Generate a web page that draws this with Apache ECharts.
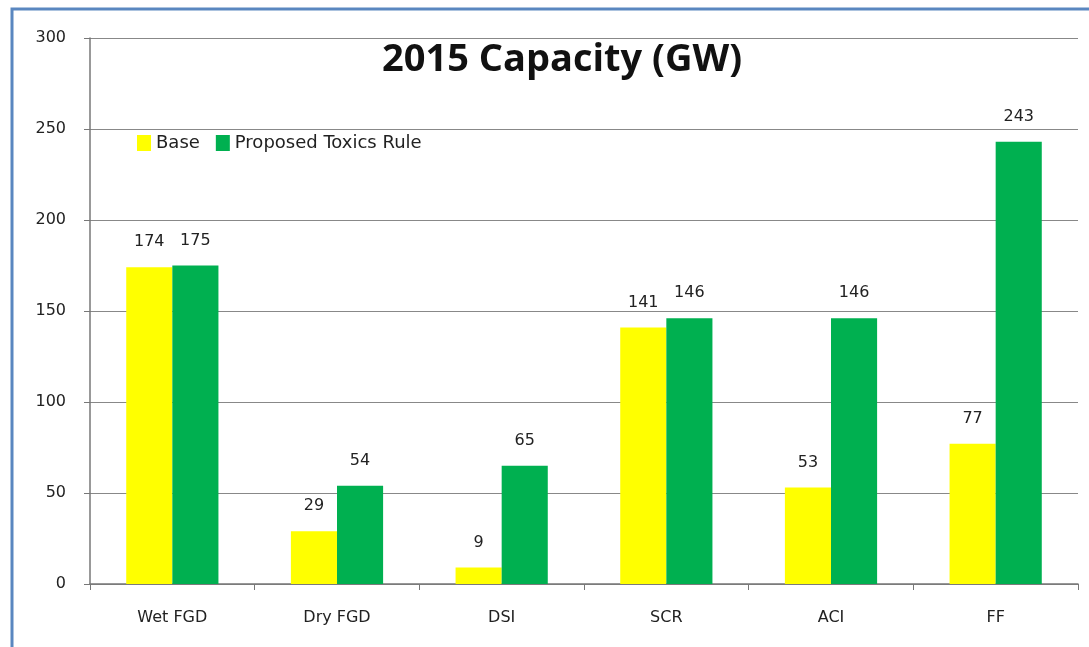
<!DOCTYPE html>
<html>
<head>
<meta charset="utf-8">
<script src="https://cdn.jsdelivr.net/npm/echarts@6/dist/echarts.min.js"></script>
<style>
html, body { margin: 0; padding: 0; background: #fff; }
#main { width: 1089px; height: 647px; }
</style>
</head>
<body>
<div id="main"></div>
<script>
var categories = ['Wet FGD', 'Dry FGD', 'DSI', 'SCR', 'ACI', 'FF'];
var baseValues = [174, 29, 9, 141, 53, 77];
var toxicsValues = [175, 54, 65, 146, 146, 243];

var myChart = echarts.init(document.getElementById('main'));
var labelStyle = {
	show: true,
	position: 'top',
	distance: 17,
	color: '#222',
	fontFamily: 'DejaVu Sans',
	fontSize: 16
};
option = {
	backgroundColor: '#fff',
	animation: false,
	title: {
		text: '2015 Capacity (GW)',
		left: 557,
		top: 36,
		textAlign: 'center',
		textStyle: {
			fontFamily: 'Open Sans',
			fontWeight: 'bold',
			fontSize: 38,
			color: '#111'
		}
	},
	legend: {
		left: 132,
		top: 129,
		itemWidth: 14,
		itemHeight: 16,
		itemGap: 16,
		icon: 'rect',
		textStyle: { fontFamily: 'DejaVu Sans', fontSize: 18, color: '#222' },
		data: ['Base', 'Proposed Toxics Rule']
	},
	graphic: [{
		type: 'rect',
		shape: { x: 12, y: 9, width: 1090, height: 650 },
		style: { fill: 'none', stroke: '#5a87c0', lineWidth: 3 }
	}],
	grid: { left: 90, right: 11, top: 38, bottom: 63 },
	xAxis: {
		type: 'category',
		data: categories,
		axisLine: { lineStyle: { color: '#777', width: 1.5 } },
		axisTick: { show: true, length: 6, lineStyle: { color: '#777' } },
		axisLabel: { margin: 26, color: '#222', fontFamily: 'DejaVu Sans', fontSize: 16 }
	},
	yAxis: {
		type: 'value',
		min: 0,
		max: 300,
		interval: 50,
		axisLine: { show: true, lineStyle: { color: '#777', width: 1.5 } },
		axisTick: { show: true, length: 6, lineStyle: { color: '#777' } },
		splitLine: { lineStyle: { color: '#888', width: 1 } },
		axisLabel: { margin: 24, color: '#222', fontFamily: 'DejaVu Sans', fontSize: 16 }
	},
	series: [{
		name: 'Base',
		type: 'bar',
		data: baseValues,
		barGap: '0%',
		barCategoryGap: '44%',
		itemStyle: { color: '#ffff00' },
		label: labelStyle
	}, {
		name: 'Proposed Toxics Rule',
		type: 'bar',
		data: toxicsValues,
		barGap: '0%',
		barCategoryGap: '44%',
		itemStyle: { color: '#00b050' },
		label: labelStyle
	}]
};

myChart.setOption(option);
</script>
</body>
</html>
